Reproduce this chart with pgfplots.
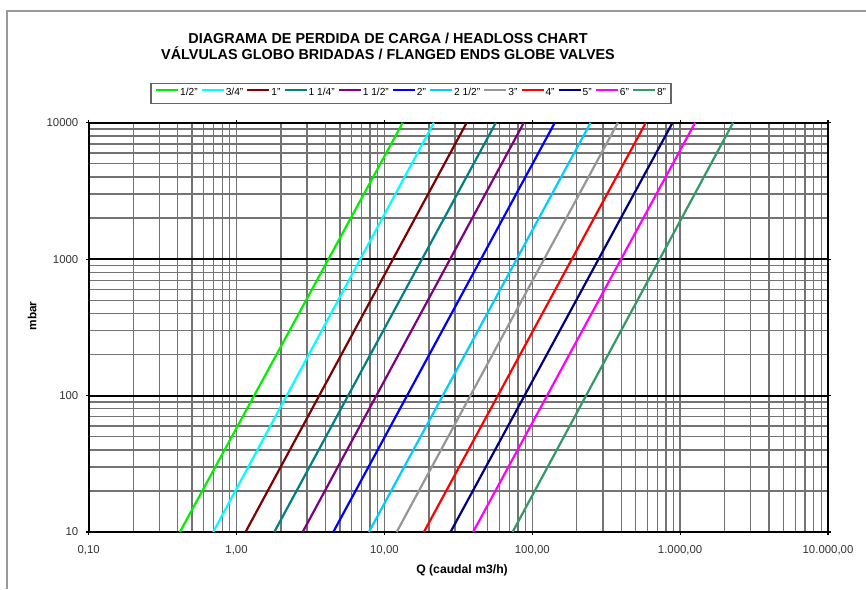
\documentclass[border=0pt]{standalone}
\usepackage{pgfplots}
\pgfplotsset{compat=1.18}
\usepackage{fontspec}
\setmainfont{Liberation Sans}
\definecolor{c1}{RGB}{0,240,0}
\definecolor{c2}{RGB}{0,255,255}
\definecolor{c3}{RGB}{128,0,0}
\definecolor{c4}{RGB}{0,128,128}
\definecolor{c5}{RGB}{128,0,128}
\definecolor{c6}{RGB}{0,0,255}
\definecolor{c7}{RGB}{0,204,255}
\definecolor{c8}{RGB}{150,150,150}
\definecolor{c9}{RGB}{255,0,0}
\definecolor{c10}{RGB}{0,0,128}
\definecolor{c11}{RGB}{255,0,255}
\definecolor{c12}{RGB}{51,153,102}
\begin{document}
\begin{tikzpicture}
\useasboundingbox (0,0) rectangle (433pt,294.5pt);
\draw[black!40, line width=1pt] (3.5pt,0) -- (3.5pt,289pt) -- (433pt,289pt);
\node[align=center, font=\bfseries\fontsize{7.2}{8}\selectfont] at (194pt,271.5pt)
  {DIAGRAMA DE PERDIDA DE CARGA / HEADLOSS CHART\\V\'ALVULAS GLOBO BRIDADAS / FLANGED ENDS GLOBE VALVES};
\begin{axis}[
  at={(44.35pt,28.5pt)}, anchor=south west,
  width=369.65pt, height=204.65pt, scale only axis,
  xmode=log, ymode=log,
  xmin=0.1, xmax=10000, ymin=10, ymax=10000,
  xtick={0.1,1,10,100,1000,10000},
  xticklabels={{0,10},{1,00},{10,00},{100,00},{1.000,00},{10.000,00}},
  ytick={10,100,1000,10000},
  yticklabels={10,100,1000,10000},
  /pgf/number format/assume math mode=true,
  tick label style={font=\fontsize{5.7}{6.5}\selectfont, black!80, inner sep=0pt},
  xticklabel shift=5pt, yticklabel shift=3.5pt,
  tick align=outside, major tick length=1.5pt, minor tick length=0pt,
  tick style={black, line width=0.6pt},
  grid=both,
  major x grid style={black!55, line width=0.7pt},
  minor x grid style={black!55, line width=0.7pt},
  major y grid style={black, line width=1pt},
  minor y grid style={black!55, line width=0.7pt},
  axis line style={black, line width=1pt},
  xlabel={Q (caudal m3/h)},
  ylabel={mbar},
  xlabel style={font=\bfseries\fontsize{6.1}{7}\selectfont, at={(axis description cs:0.505,-0.093)}, anchor=center},
  ylabel style={font=\bfseries\fontsize{5.9}{7}\selectfont, at={(axis description cs:-0.0765,0.528)}, anchor=center, rotate=0},
  legend columns=12,
  legend style={at={(axis description cs:0.436,1.0713)}, anchor=center,
    font=\fontsize{5.1}{6}\selectfont, draw=black!60, line width=0.7pt,
    inner xsep=2pt, inner ysep=2pt,
    nodes={inner sep=0.5pt},
    /tikz/every even column/.append style={column sep=1pt}},
  legend image code/.code={\path (0pt,0pt); \draw[#1, line width=1pt] (0pt,1.8pt) -- (11pt,1.8pt);},
  every axis plot/.append style={line width=1.1pt},
]
\addplot[c1] coordinates {(0.414,10) (13.3,10000)};
\addlegendentry{1/2"}
\addplot[c2] coordinates {(0.695,10) (21.6,10000)};
\addlegendentry{3/4"}
\addplot[c3] coordinates {(1.15,10) (36.0,10000)};
\addlegendentry{1"}
\addplot[c4] coordinates {(1.80,10) (56.7,10000)};
\addlegendentry{1 1/4"}
\addplot[c5] coordinates {(2.80,10) (87.7,10000)};
\addlegendentry{1 1/2"}
\addplot[c6] coordinates {(4.51,10) (142,10000)};
\addlegendentry{2"}
\addplot[c7] coordinates {(7.86,10) (248,10000)};
\addlegendentry{2 1/2"}
\addplot[c8] coordinates {(12.1,10) (379,10000)};
\addlegendentry{3"}
\addplot[c9] coordinates {(18.5,10) (586,10000)};
\addlegendentry{4"}
\addplot[c10] coordinates {(28.0,10) (889,10000)};
\addlegendentry{5"}
\addplot[c11] coordinates {(39.8,10) (1262,10000)};
\addlegendentry{6"}
\addplot[c12] coordinates {(73.6,10) (2282,10000)};
\addlegendentry{8"}
\end{axis}
\end{tikzpicture}
\end{document}
